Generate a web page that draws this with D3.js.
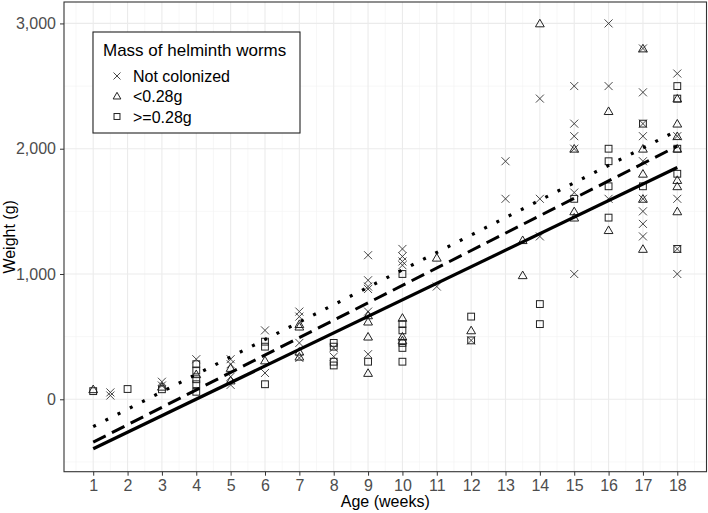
<!DOCTYPE html>
<html><head><meta charset="utf-8">
<script src="https://cdn.jsdelivr.net/npm/d3@7"></script>
<style>html,body{margin:0;padding:0;background:#fff}svg{display:block;font-family:"Liberation Sans",Arial,sans-serif}</style>
</head><body><svg id="c" width="708" height="513"></svg>
<script>
// ---- data ----
const groups = ["Not colonized", "<0.28g", ">=0.28g"];
const ncAge = [1.5,1.5,3,3,4,5,5,5,5,6,6,7,7,7,7,8,8,9,9,9,9,9,9,10,10,10,10,11,12,13,13,14,14,14,15,15,15,15,15,15,16,16,16,17,17,17,17,17,17,17,17,17,18,18,18,18,18];
const ncWeight = [55,30,140,110,320,320,280,180,115,550,210,700,660,450,330,410,340,1150,950,900,880,700,360,1200,1140,1100,1070,900,470,1900,1600,2400,1600,1300,2500,2200,2100,2000,1650,1000,3000,2500,1600,2800,2450,2200,2100,1900,1600,1500,1400,1300,2600,2100,1600,1200,1000];
const ltAge = [1,3,4,5,5,6,7,7,7,7,9,9,9,9,10,10,10,11,12,13.5,13.5,14,15,15,15,16,16,17,17,17,17,17,18,18,18,18,18,18,18];
const ltWeight = [80,100,200,250,150,310,600,580,380,340,670,620,500,210,650,500,470,1130,550,1270,990,3000,2000,1500,1450,2300,1350,2800,2000,1800,1600,1200,2400,2200,2100,2000,1750,1700,1500];
const geAge = [1,2,3,4,4,4,4,4,6,6,6,8,8,8,8,9,10,10,10,10,10,10,12,12,14,14,15,16,16,16,16,17,17,18,18,18,18,18];
const geWeight = [65,82,80,280,230,160,120,60,460,420,120,450,420,300,270,300,1000,600,550,450,410,300,660,470,760,600,1600,2000,1900,1700,1450,2200,1700,2500,2400,2000,1800,1200];
// fitted lines: weight at age 1 and age 18
const lineAges = [1, 18];
const fitSolid = [-395, 1850];
const fitDashed = [-342, 2021];
const fitDotted = [-218, 2145];
const xTicks = d3.range(1, 19);
const yTicks = [0, 1000, 2000, 3000];

// ---- layout ----
const P = {l: 64, r: 706.5, t: 2, b: 471.7};
const svg = d3.select("#c");
const x = d3.scaleLinear().domain([0.15, 18.85]).range([P.l, P.r]);
const y = d3.scaleLinear().domain([-578, 3171]).range([P.b, P.t]);

// grid
const g = svg.append("g");
const minorX = d3.range(0.5, 19, 1), minorY = [-500, 500, 1500, 2500];
g.selectAll(".mx").data(minorX).join("line").attr("x1", d=>x(d)).attr("x2", d=>x(d)).attr("y1", P.t).attr("y2", P.b).attr("stroke", "#f2f2f2").attr("stroke-width", 0.6);
g.selectAll(".my").data(minorY).join("line").attr("y1", d=>y(d)).attr("y2", d=>y(d)).attr("x1", P.l).attr("x2", P.r).attr("stroke", "#f2f2f2").attr("stroke-width", 0.6);
g.selectAll(".Mx").data(xTicks).join("line").attr("x1", d=>x(d)).attr("x2", d=>x(d)).attr("y1", P.t).attr("y2", P.b).attr("stroke", "#ebebeb").attr("stroke-width", 1.1);
g.selectAll(".My").data(yTicks).join("line").attr("y1", d=>y(d)).attr("y2", d=>y(d)).attr("x1", P.l).attr("x2", P.r).attr("stroke", "#ebebeb").attr("stroke-width", 1.1);

// axes
const xAxis = svg.append("g").attr("transform", `translate(0,${P.b})`)
  .call(d3.axisBottom(x).tickValues(xTicks).tickSize(4).tickPadding(4).tickFormat(d3.format("d")));
const yAxis = svg.append("g").attr("transform", `translate(${P.l},0)`)
  .call(d3.axisLeft(y).tickValues(yTicks).tickSize(4).tickPadding(4).tickFormat(d3.format(",")));
[xAxis, yAxis].forEach(a => {
  a.select(".domain").remove();
  a.selectAll(".tick line").attr("stroke", "#333");
  a.selectAll(".tick text").attr("fill", "#4d4d4d").style("font-size", "16px").style("font-family", "Liberation Sans, Arial, sans-serif");
});

// symbols
function drawSym(sel, type, s) {
  const h = s / 2;
  if (type === 0) return sel.append("path").attr("d", `M${-h},${-h}L${h},${h}M${-h},${h}L${h},${-h}`).attr("stroke", "#333").attr("stroke-width", 0.9).attr("fill", "none");
  if (type === 1) return sel.append("path").attr("d", `M0,${-h*1.05}L${h*1.1},${h*0.85}L${-h*1.1},${h*0.85}Z`).attr("stroke", "#222").attr("stroke-width", 1).attr("fill", "none");
  return sel.append("rect").attr("x", -h*0.85).attr("y", -h*0.85).attr("width", h*1.7).attr("height", h*1.7).attr("stroke", "#222").attr("stroke-width", 1).attr("fill", "none");
}
const sets = [[ncAge, ncWeight], [ltAge, ltWeight], [geAge, geWeight]];
const pts = svg.append("g");
sets.forEach(([a, w], k) => {
  a.forEach((age, i) => {
    const gg = pts.append("g").attr("transform", `translate(${x(age)},${y(w[i])})`);
    drawSym(gg, k, 8);
  });
});

// fitted lines
const lines = [
  {v: fitSolid, dash: null, w: 3.2},
  {v: fitDashed, dash: "14,7", w: 3},
  {v: fitDotted, dash: "3,10.7", w: 3.2}
];
const lg = svg.append("g");
lines.forEach(L => {
  const p = lg.append("path").datum(lineAges.map((a, i) => [a, L.v[i]]))
    .attr("d", d3.line().x(d => x(d[0])).y(d => y(d[1])))
    .attr("fill", "none").attr("stroke", "#000").attr("stroke-width", L.w);
  if (L.dash) p.attr("stroke-dasharray", L.dash);
});

// panel border
svg.append("rect").attr("x", P.l).attr("y", P.t).attr("width", P.r - P.l).attr("height", P.b - P.t).attr("fill", "none").attr("stroke", "#333").attr("stroke-width", 1.1);

// axis titles
svg.append("text").attr("x", (P.l + P.r) / 2).attr("y", 507).attr("text-anchor", "middle").style("font-size", "16px").text("Age (weeks)");
svg.append("text").attr("transform", `translate(15,${(P.t + P.b) / 2}) rotate(-90)`).attr("text-anchor", "middle").style("font-size", "16px").text("Weight (g)");

// legend
const leg = svg.append("g");
leg.append("rect").attr("x", 93).attr("y", 32).attr("width", 207).attr("height", 101).attr("fill", "#fff").attr("stroke", "#222").attr("stroke-width", 1.1);
leg.append("text").attr("x", 103).attr("y", 56).style("font-size", "17px").text("Mass of helminth worms");
const ly = [76, 96, 116.5];
groups.forEach((name, k) => {
  const gg = leg.append("g").attr("transform", `translate(117,${ly[k]})`);
  drawSym(gg, k, 7);
  leg.append("text").attr("x", 133).attr("y", ly[k] + 6).style("font-size", "16px").text(name);
});
</script></body></html>
